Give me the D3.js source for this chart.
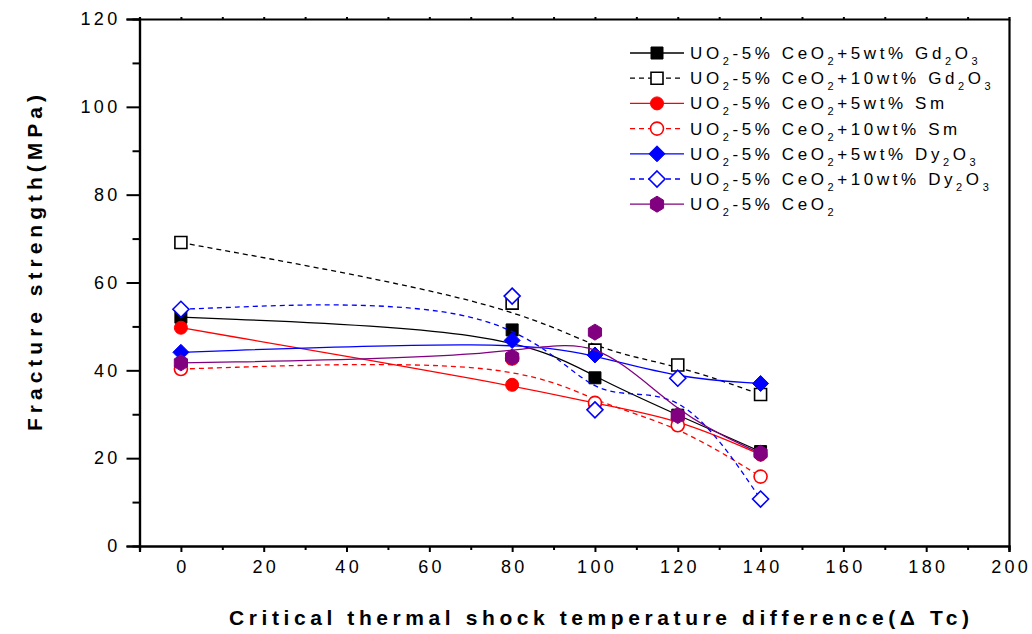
<!DOCTYPE html>
<html>
<head>
<meta charset="utf-8">
<script src="https://cdn.jsdelivr.net/npm/d3@7"></script>
<style>
  body { margin: 0; background: #fff; }
  svg { display: block; font-family: "Liberation Sans", Arial, sans-serif; }
</style>
</head>
<body>
<div id="chart"></div>
<script>
// data
const temps = [0, 80, 100, 120, 140];
const gd5 = [52.1, 49.2, 38.3, 29.8, 21.5];
const gd10 = [69.1, 55.3, 44.6, 41.2, 34.5];
const sm5 = [49.7, 36.7, 32.4, 29.0, 20.8];
const sm10 = [40.3, 42.7, 32.6, 27.5, 15.8];
const dy5 = [44.1, 46.8, 43.5, 38.2, 37.0];
const dy10 = [53.9, 56.9, 31.0, 38.2, 10.7];
const ceo2 = [41.7, 43.0, 48.7, 29.7, 21.1];

// "_x" means subscript x
const labels = [
    "UO_2-5% CeO_2+5wt% Gd_2O_3",
    "UO_2-5% CeO_2+10wt% Gd_2O_3",
    "UO_2-5% CeO_2+5wt% Sm",
    "UO_2-5% CeO_2+10wt% Sm",
    "UO_2-5% CeO_2+5wt% Dy_2O_3",
    "UO_2-5% CeO_2+10wt% Dy_2O_3",
    "UO_2-5% CeO_2"
];
const xTicks = [0, 20, 40, 60, 80, 100, 120, 140, 160, 180, 200];
const yTicks = [0, 20, 40, 60, 80, 100, 120];

const series = [
    { values: gd5, color: "#000000", dash: null, shape: "square", fill: true },
    { values: gd10, color: "#000000", dash: "5,4", shape: "square", fill: false },
    { values: sm5, color: "#ff0000", dash: null, shape: "circle", fill: true },
    { values: sm10, color: "#ff0000", dash: "5,4", shape: "circle", fill: false },
    { values: dy5, color: "#0000ff", dash: null, shape: "diamond", fill: true },
    { values: dy10, color: "#0000ff", dash: "5,4", shape: "diamond", fill: false },
    { values: ceo2, color: "#800080", dash: null, shape: "hexagon", fill: true }
];

const W = 1032, H = 634;
const svg = d3.select("#chart").append("svg")
    .attr("width", W)
    .attr("height", H);

const x = d3.scaleLinear().domain([-10, 200]).range([139.5, 1009]);
const y = d3.scaleLinear().domain([0, 120]).range([546, 19]);

// markers
function markerPath(shape) {
    if (shape === "square") return "M-6,-6H6V6H-6Z";
    if (shape === "circle") return d3.symbol(d3.symbolCircle, Math.PI * 6.5 * 6.5)();
    if (shape === "diamond") return "M0,-8L8,0L0,8L-8,0Z";
    const pts = d3.range(6).map(i => {
        const a = -Math.PI / 2 + i * Math.PI / 3;
        return [7.6 * Math.cos(a), 8 * Math.sin(a)];
    });
    return "M" + pts.join("L") + "Z";
}

const line = d3.line()
    .x((d, i) => x(temps[i]))
    .y(d => y(d))
    .curve(d3.curveBasis);

const plot = svg.append("g");
series.forEach(s => {
    plot.append("path")
        .attr("d", line(s.values))
        .attr("fill", "none")
        .attr("stroke", s.color)
        .attr("stroke-width", 1.3)
        .attr("stroke-dasharray", s.dash);
    plot.selectAll(null)
        .data(s.values)
        .enter()
        .append("path")
        .attr("d", markerPath(s.shape))
        .attr("transform", (d, i) => `translate(${x(temps[i])},${y(d)})`)
        .attr("fill", s.fill ? s.color : "#fff")
        .attr("stroke", s.color)
        .attr("stroke-width", s.fill ? 1 : 1.6);
});

// axes
const xAxis = svg.append("g")
    .attr("transform", `translate(0,${y(0)})`)
    .call(d3.axisBottom(x).tickValues(xTicks).tickSize(6).tickPadding(8).tickFormat(d3.format("d")));
svg.append("g")
    .attr("transform", `translate(0,${y(0)})`)
    .call(d3.axisBottom(x).tickValues(d3.range(-10, 200, 20)).tickSize(4).tickFormat(""));
const yAxis = svg.append("g")
    .attr("transform", `translate(${x(-10)},0)`)
    .call(d3.axisLeft(y).tickValues(yTicks).tickSize(13).tickPadding(9));
svg.append("g")
    .attr("transform", `translate(${x(-10)},0)`)
    .call(d3.axisLeft(y).tickValues(d3.range(10, 120, 20)).tickSize(7).tickFormat(""));
// top and right frame
svg.append("g")
    .attr("transform", `translate(0,${y(120)})`)
    .call(d3.axisTop(x).tickValues(d3.range(0, 200, 10)).tickSize(2).tickFormat(""));
svg.append("g")
    .attr("transform", `translate(${x(200)},0)`)
    .call(d3.axisRight(y).tickValues([]).tickSize(0));

svg.selectAll(".domain").attr("stroke", "#000").attr("stroke-width", 2.2);
svg.selectAll(".tick line").attr("stroke", "#000").attr("stroke-width", 2);
svg.selectAll(".tick text")
    .attr("font-size", 18)
    .attr("font-family", "Liberation Sans, Arial, sans-serif")
    .attr("letter-spacing", 3.3)
    .attr("fill", "#000");
xAxis.selectAll(".tick text").attr("dx", 1.6);
yAxis.selectAll(".tick text").attr("dx", 3);

// axis titles
svg.append("text")
    .attr("x", 599)
    .attr("y", 625)
    .attr("text-anchor", "middle")
    .attr("font-size", 21)
    .attr("font-weight", "bold")
    .attr("textLength", 740)
    .attr("lengthAdjust", "spacing")
    .text("Critical thermal shock temperature difference(Δ Tc)");

svg.append("text")
    .attr("transform", "translate(42,263) rotate(-90)")
    .attr("text-anchor", "middle")
    .attr("font-size", 21)
    .attr("font-weight", "bold")
    .attr("textLength", 336)
    .attr("lengthAdjust", "spacing")
    .text("Fracture strength(MPa)");

// legend
const legend = svg.append("g");
series.forEach((s, i) => {
    const ly = 53 + i * 25.2;
    const g = legend.append("g").attr("transform", `translate(0,${ly})`);
    g.append("line")
        .attr("x1", 630).attr("x2", 684)
        .attr("stroke", s.color)
        .attr("stroke-width", 1.3)
        .attr("stroke-dasharray", s.dash);
    g.append("path")
        .attr("d", markerPath(s.shape))
        .attr("transform", "translate(657,0)")
        .attr("fill", s.fill ? s.color : "#fff")
        .attr("stroke", s.color)
        .attr("stroke-width", s.fill ? 1 : 1.6);
    const t = g.append("text")
        .attr("x", 690)
        .attr("y", 6)
        .attr("font-size", 17)
        .attr("letter-spacing", 3.6);
    let shift = 0;
    labels[i].split(/(_\d)/).filter(p => p).forEach(p => {
        if (p[0] === "_") {
            t.append("tspan").attr("font-size", 11).attr("dy", 6 - shift).text(p.slice(1));
            shift = 6;
        } else {
            t.append("tspan").attr("dy", -shift).text(p);
            shift = 0;
        }
    });
});
</script>
</body>
</html>
